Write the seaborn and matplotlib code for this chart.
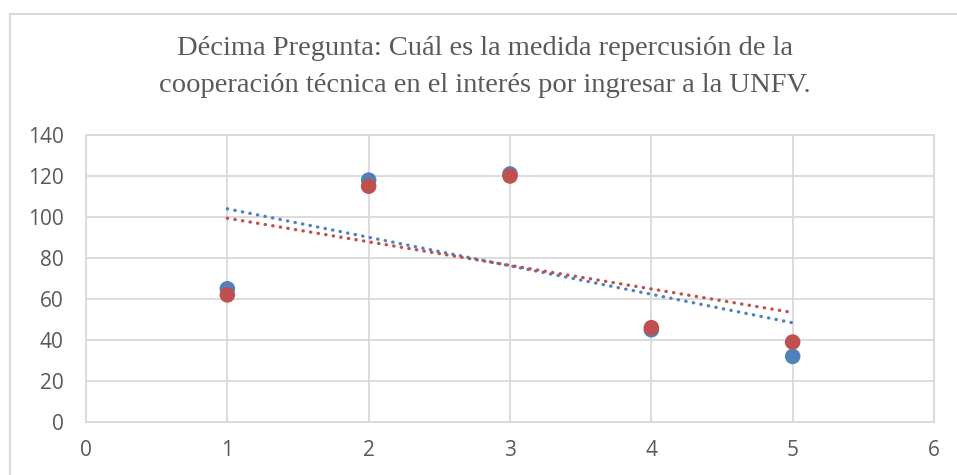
import numpy as np
import pandas as pd
import matplotlib
matplotlib.use("Agg")
import matplotlib.pyplot as plt
import seaborn as sns
from matplotlib.lines import Line2D

# Data
x_vals = [1, 2, 3, 4, 5]
serie_azul = [65, 118, 121, 45, 32]
serie_roja = [62, 115, 120, 46, 39]

titulo = ("Décima Pregunta: Cuál es la medida repercusión de la\n"
          "cooperación técnica en el interés por ingresar a la UNFV.")

azul = "#4F81BD"
rojo = "#C0504D"
gris_txt = "#595959"
gris_grid = "#D9D9D9"

df = pd.DataFrame({"x": x_vals, "azul": serie_azul, "roja": serie_roja})

sns.set_style("white")
plt.rcParams["font.family"] = ["Open Sans", "DejaVu Sans"]

fig = plt.figure(figsize=(9.57, 4.75), dpi=100)
ax = fig.add_axes([86 / 957, 1 - 422 / 475, (934 - 86) / 957, (422 - 135) / 475])

# points
sns.scatterplot(data=df, x="x", y="azul", ax=ax, color=azul, s=125,
                edgecolor="none", zorder=3)
sns.scatterplot(data=df, x="x", y="roja", ax=ax, color=rojo, s=125,
                edgecolor="none", zorder=4)

# linear trendlines
for col, c in [("azul", azul), ("roja", rojo)]:
    sns.regplot(data=df, x="x", y=col, ax=ax, scatter=False, ci=None,
                color=c, line_kws={"linestyle": (0, (0.1, 2.2)), "linewidth": 2.4,
                                   "dash_capstyle": "round", "zorder": 5})

ax.set_xlim(0, 6)
ax.set_ylim(0, 140)
ax.set_xticks(range(0, 7))
ax.set_yticks(range(0, 141, 20))
ax.set_xlabel("")
ax.set_ylabel("")
ax.grid(True, color=gris_grid, linewidth=1.3)
ax.set_axisbelow(True)
for s in ax.spines.values():
    s.set_color(gris_grid)
    s.set_linewidth(1.3)
ax.tick_params(axis="both", length=0, labelsize=15, labelcolor=gris_txt)
ax.tick_params(axis="y", pad=16)
ax.tick_params(axis="x", pad=13)

fig.text(0.507, 1 - 67 / 475, titulo, ha="center", va="center",
         fontsize=20.5, color=gris_txt, family="Liberation Serif",
         linespacing=1.6)

# chart area border
fig.add_artist(Line2D([9.5 / 957, 9.5 / 957], [0, 1 - 13.5 / 475],
                      transform=fig.transFigure, color=gris_grid, linewidth=1.5))
fig.add_artist(Line2D([9.5 / 957, 1], [1 - 13.5 / 475, 1 - 13.5 / 475],
                      transform=fig.transFigure, color=gris_grid, linewidth=1.5))

fig.savefig("out.png", dpi=100)
